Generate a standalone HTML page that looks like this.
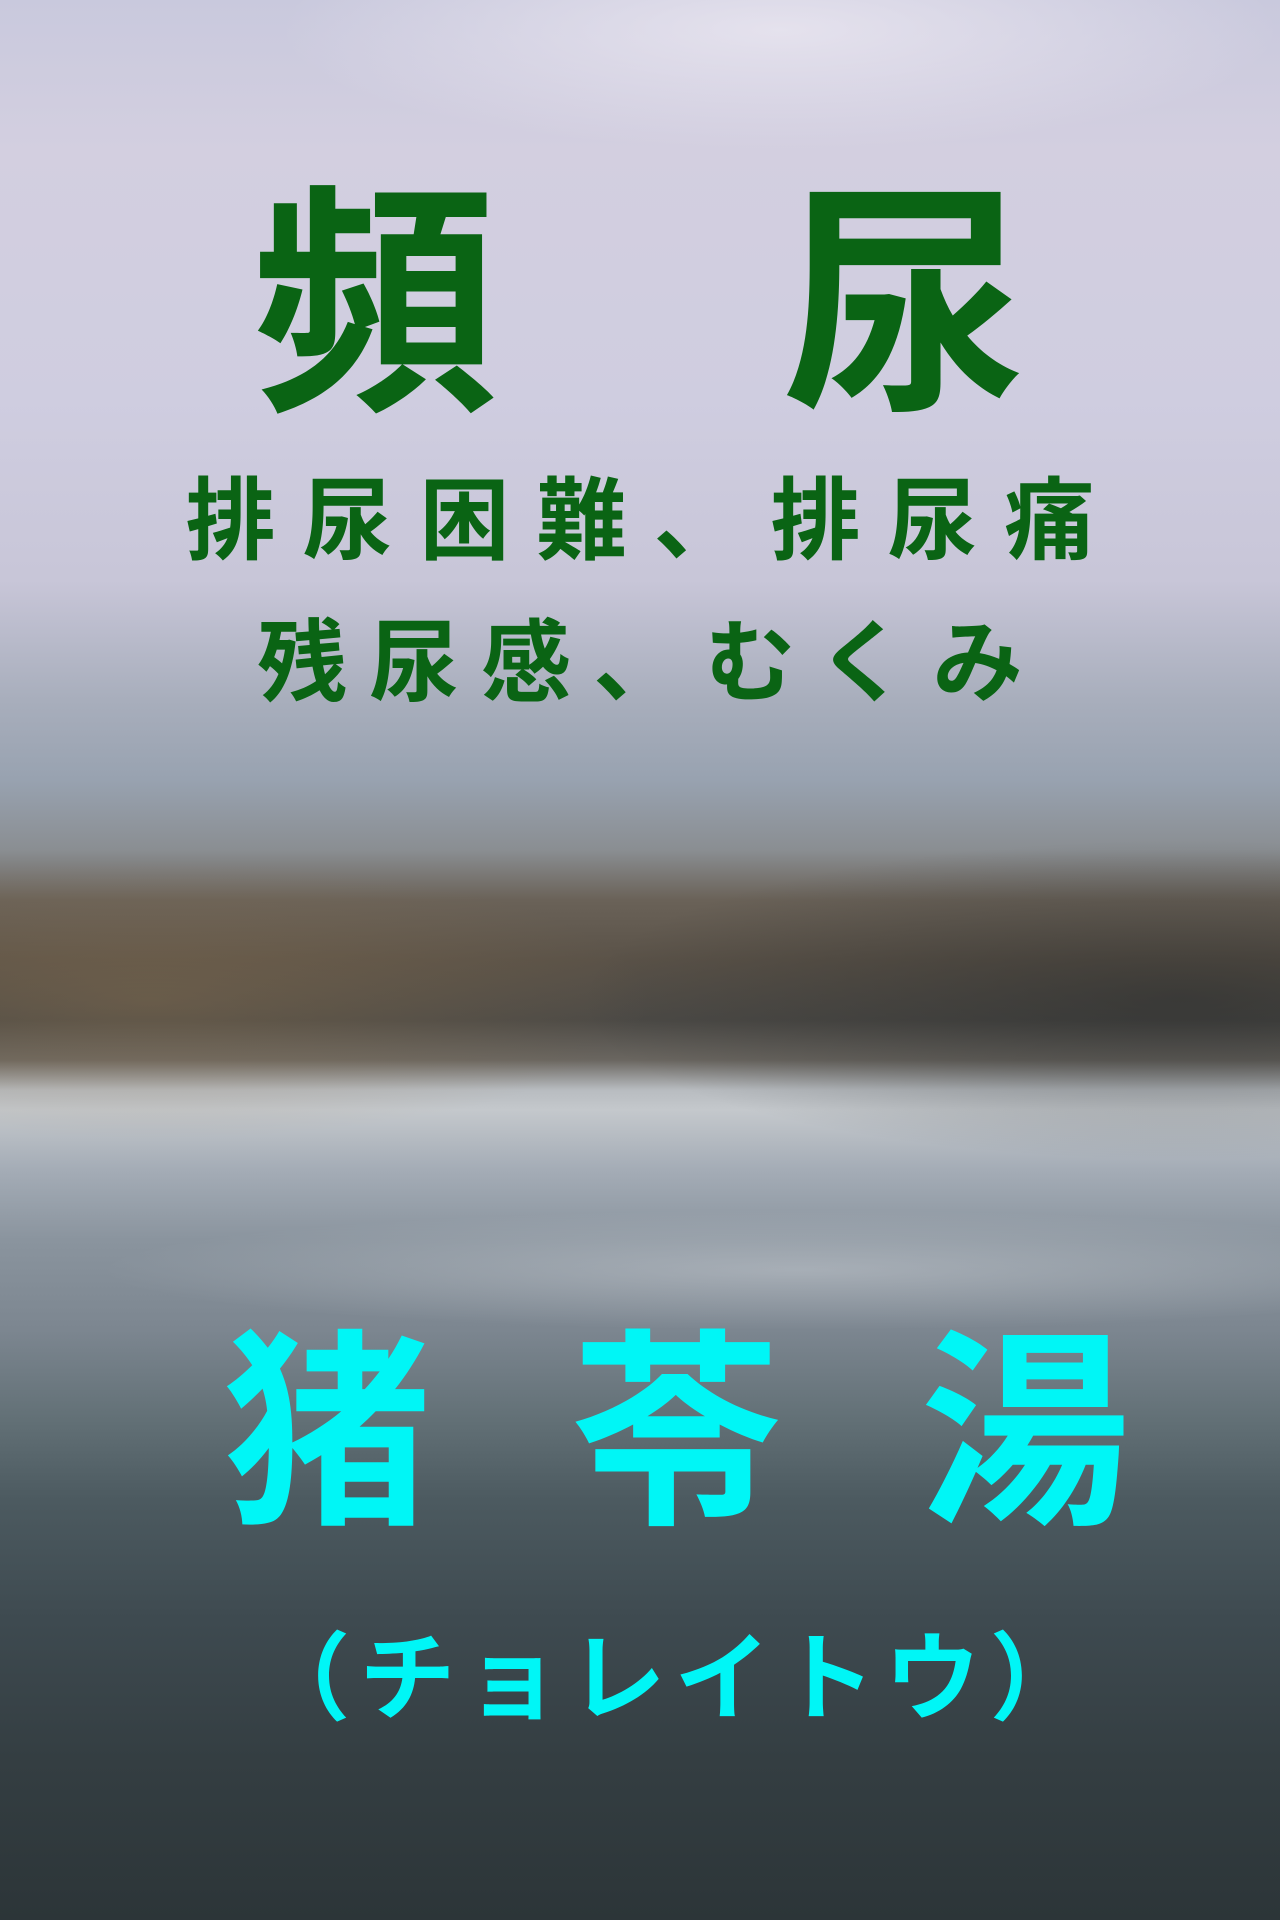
<!DOCTYPE html>
<html lang="ja">
<head>
<meta charset="utf-8">
<style>
html,body{margin:0;padding:0;}
body{width:1280px;height:1920px;overflow:hidden;position:relative;
font-family:"Liberation Sans","Noto Sans CJK JP",sans-serif;}
#bg{position:absolute;left:0;top:0;width:1280px;height:1920px;
background:linear-gradient(to bottom,
#c9c9dd 0px,#d3cfe0 150px,#cfcde0 400px,#c8c6d8 580px,
#a8aebc 700px,#98a2b0 780px,#8a8e92 850px,#6a6258 900px,
#5a5248 960px,#4c4a46 1020px,#6a6660 1060px,#b8bcc0 1090px,
#c4c8cc 1110px,#a4acb6 1170px,#8a949e 1240px,#7c8690 1330px,
#627076 1420px,#4c5a60 1500px,#3e4a50 1620px,#343e42 1760px,#2c3538 1920px);}
#haze{position:absolute;left:0;top:0;width:1280px;height:1920px;
background:
radial-gradient(ellipse 500px 120px at 780px 30px,rgba(240,236,244,.7),transparent),
radial-gradient(ellipse 600px 160px at 1180px 1000px,rgba(30,34,36,.45),transparent),
radial-gradient(ellipse 500px 140px at 150px 1000px,rgba(150,120,80,.35),transparent),
radial-gradient(ellipse 700px 60px at 800px 1270px,rgba(230,232,236,.35),transparent);}
.t{position:absolute;left:0;width:1280px;text-align:center;white-space:nowrap;font-weight:bold;line-height:1;}
</style>
</head>
<body>
<div id="bg"></div>
<div id="haze"></div>

<div class="t"
 style="top:184px;font-size:245px;color:#0a6414;">
<span style="position:absolute;left:252px;">頻</span><span style="position:absolute;left:782px;">尿</span></div>

<div class="t"
 style="top:477px;font-size:90px;color:#0a6414;letter-spacing:27px;padding-left:27px;box-sizing:border-box;">排尿困難、排尿痛</div>

<div class="t"
 style="top:619px;font-size:90px;color:#0a6414;letter-spacing:22px;padding-left:22px;box-sizing:border-box;">残尿感、むくみ</div>

<div class="t"
 style="top:1330px;font-size:210px;color:#00f6f6;">
<span style="position:absolute;left:222px;">猪</span><span style="position:absolute;left:571px;">苓</span><span style="position:absolute;left:920px;">湯</span></div>

<div class="t"
 style="top:1632px;left:30px;font-size:96px;color:#00f6f6;letter-spacing:9px;padding-left:9px;box-sizing:border-box;">（チョレイトウ）</div>
</body>
</html>
